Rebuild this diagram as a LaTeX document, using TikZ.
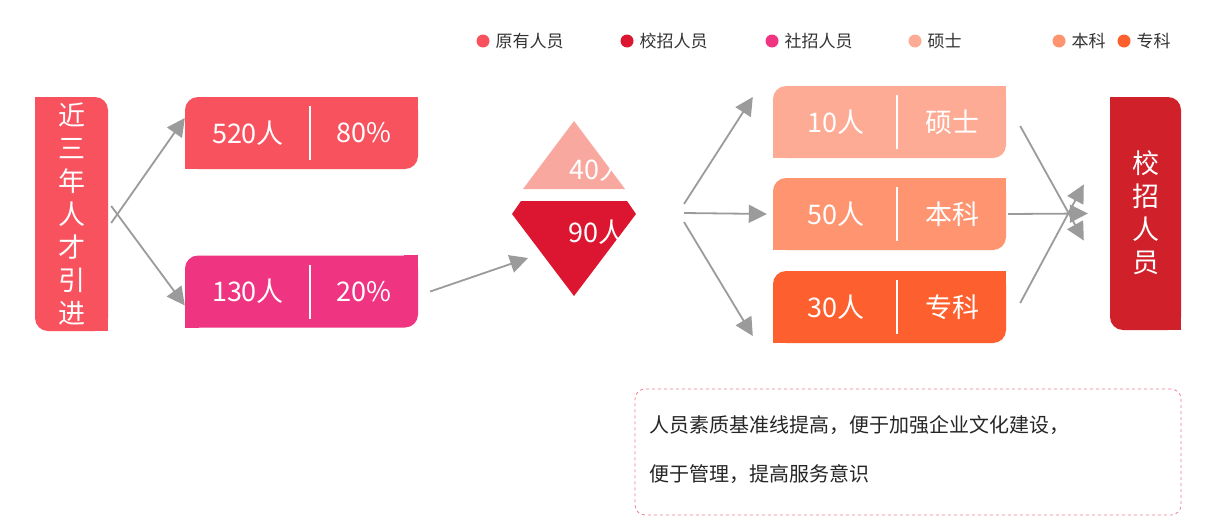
\documentclass[tikz,border=0pt]{standalone}
\usepackage{fontspec}
\setmainfont{Noto Sans CJK SC}
\usetikzlibrary{arrows.meta}
\definecolor{cA}{HTML}{F9525F}
\definecolor{cB}{HTML}{DC1631}
\definecolor{cC}{HTML}{EF3581}
\definecolor{cD}{HTML}{FDAB94}
\definecolor{cE}{HTML}{FE9470}
\definecolor{cF}{HTML}{FE5F2E}
\definecolor{cG}{HTML}{D0202A}
\definecolor{cT}{HTML}{F9A8A0}
\definecolor{arr}{HTML}{9B9B9B}
\definecolor{notec}{HTML}{EE8090}
\begin{document}
\begin{tikzpicture}[x=1pt,y=-1pt,
  boxs/.style={rounded corners=13, inner sep=0, minimum width=233, minimum height=72},
  vbox/.style={rounded corners=13, inner sep=0, minimum width=73, minimum height=234},
  wt/.style={text=white, font=\fontsize{27}{30}\selectfont},
  vt/.style={text=white, font=\fontsize{27}{33}\selectfont, align=center},
  arrw/.style={draw=arr, line width=1.8, -{Triangle[length=18,width=18]}},
  leg/.style={font=\fontsize{17}{20}\selectfont, text=black!80, anchor=west},
  dot/.style={circle, inner sep=0, minimum size=13}]
\useasboundingbox (0,0) rectangle (1209,530);
\fill[white] (0,0) rectangle (1209,530);
% legend
\foreach \c/\x/\t/\n in {cA/483/原有人员/la, cB/627/校招人员/lb, cC/772/社招人员/lc, cD/915/硕士/ld, cE/1059/本科/le, cF/1124/专科/lf}{
  \node[dot, fill=\c] (\n d) at (\x,41) {};
  \node[leg] (\n t) at (\x+9,41) {\t};
}
% left box
\node[vbox, fill=cA] (L) at (71.5,214) {};
\fill[cA] (L.north west) rectangle +(14,14);
\fill[cA] (L.south east) rectangle +(-14,-14);
\node[vt] (Lt) at (L) {近\\三\\年\\人\\才\\引\\进};
% 520 / 130
\foreach \n/\c/\y/\a/\b in {P/cA/133/520人/80\%, Q/cC/291.5/130人/20\%}{
  \node[boxs, fill=\c] (\n) at (301.5,\y) {};
  \fill[\c] (\n.north east) rectangle +(-14,14);
  \fill[\c] (\n.south west) rectangle +(14,-14);
  \draw[white, line width=1.5] (310,\y-27) -- (310,\y+27);
  \node[wt] (\n a) at (248,\y) {\a};
  \node[wt] (\n b) at (364,\y) {\b};
}
% triangle and pentagon
\fill[cT] (574,121) -- (625,189) -- (523,189) -- cycle;
\node[wt] (T40) at (598,169) {40人};
\fill[cB] (521,201) -- (627,201) -- (636,214) -- (574,296) -- (512,214) -- cycle;
\node[wt] (T90) at (597,232) {90人};
\coordinate (Din) at (512,258);
\coordinate (Dout) at (684,213);
% right boxes
\foreach \n/\c/\y/\a/\b in {R1/cD/122/10人/硕士, R2/cE/214/50人/本科, R3/cF/307/30人/专科}{
  \node[boxs, fill=\c] (\n) at (889.5,\y) {};
  \fill[\c] (\n.north east) rectangle +(-14,14);
  \fill[\c] (\n.south west) rectangle +(14,-14);
  \draw[white, line width=1.5] (897,\y-27) -- (897,\y+27);
  \node[wt] (\n a) at (836,\y) {\a};
  \node[wt] (\n b) at (952,\y) {\b};
}
% right red box
\node[vbox, fill=cG, minimum width=71, minimum height=233] (RR) at (1145.5,213.5) {};
\fill[cG] (RR.north west) rectangle +(14,14);
\fill[cG] (RR.south east) rectangle +(-14,-14);
\node[vt] (RRt) at (1146,213) {校\\招\\人\\员};
% arrows
\draw[arrw] ([yshift=-9]L.east) ++(3,0) -- ([yshift=15]P.west);
\draw[arrw] ([yshift=8]L.east) ++(3,0) -- ([yshift=-14]Q.west);
\draw[arrw] ([xshift=12]Q.east) -- ([xshift=16]Din);
\draw[arrw] (684,204) -- ([yshift=25,xshift=-20]R1.west);
\draw[arrw] (Dout) -- ([xshift=-6]R2.west);
\draw[arrw] (684,222) -- ([yshift=-29,xshift=-20]R3.west);
\draw[arrw] ([xshift=14,yshift=-4]R1.east) -- ([xshift=-26,yshift=-27]RR.west);
\draw[arrw] ([xshift=2]R2.east) -- ([xshift=-22]RR.west);
\draw[arrw] ([xshift=14,yshift=4]R3.east) -- ([xshift=-26,yshift=29]RR.west);
% note
\node[draw=notec, dashed, rounded corners=10, line width=0.8, minimum width=546, minimum height=126, inner sep=0] (N) at (908,452) {};
\node[anchor=west, font=\fontsize{20}{24}\selectfont, text=black!85] (N1) at (646,425) {人员素质基准线提高，便于加强企业文化建设，};
\node[anchor=west, font=\fontsize{20}{24}\selectfont, text=black!85] (N2) at (646,474) {便于管理，提高服务意识};
\end{tikzpicture}
\end{document}
